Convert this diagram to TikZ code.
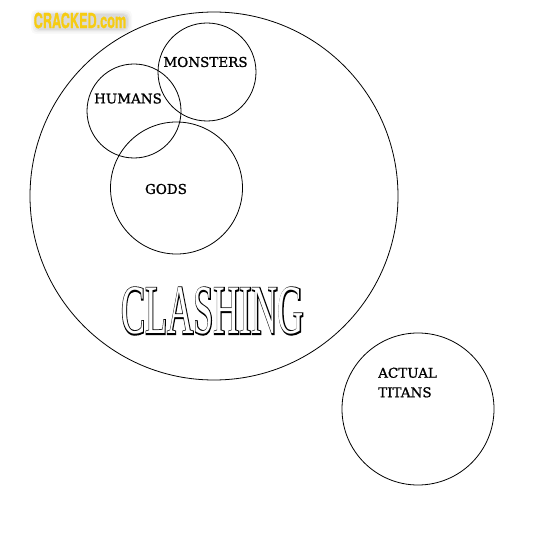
\documentclass[tikz,border=0pt]{standalone}
\usepackage{fontspec}
\setmainfont{DejaVu Serif}
\newfontfamily\lblfont[FakeBold=1.2]{DejaVu Serif}
\newfontfamily\clashbold[FakeBold=4]{Liberation Serif}
\newfontfamily\clashreg{Liberation Serif}
\newfontfamily\logofont[FakeBold=1]{TeX Gyre Heros}
\definecolor{logoyellow}{RGB}{246,204,18}
\begin{document}
\begin{tikzpicture}[x=1pt,y=-1pt,
  circ/.style={draw=black,line width=0.8pt,circle,inner sep=0pt,outer sep=0pt},
  lbl/.style={font=\lblfont\fontsize{13.5}{16}\selectfont,inner sep=0pt},
  clash/.style={inner sep=0pt,xscale=0.52,transform shape,anchor=center}]
\useasboundingbox (0,0) rectangle (540,540);
% logo glow
\foreach \w/\o in {4/0.025,2.5/0.035,1/0.045,0/0.05}{
  \fill[black,opacity=\o,rounded corners=5pt] (35-\w,14-\w) rectangle (128+\w,30+\w);
}
% circles
\node[circ,minimum size=368pt] (big) at (214,196) {};
\node[circ,minimum size=98pt] (monsterc) at (207,72) {};
\node[circ,minimum size=94pt] (humanc) at (134,111) {};
\node[circ,minimum size=132pt] (godc) at (176.5,188) {};
\node[circ,minimum size=152pt] (titanc) at (418,409) {};
% labels
\node[lbl] (monsters) at (205.5,62) {MONSTERS};
\node[lbl] (humans) at (128,98.5) {HUMANS};
\node[lbl] (gods) at (166,189) {GODS};
\node[lbl,align=left,anchor=north west,font=\lblfont\fontsize{13.5}{19.5}\selectfont] (titans) at (378,367.5) {ACTUAL\\TITANS};
% CLASHING outlined
\node[clash,text=black] (clashout) at (212.5,311) {\clashbold\fontsize{69.5}{70}\selectfont CLASHING};
\node[clash,text=white] (clashin) at (212.5,311) {\clashreg\fontsize{69.5}{70}\selectfont CLASHING};
% logo
\node[inner sep=0pt,xscale=0.61,transform shape,text=logoyellow] (logo) at (80,20.5) {\logofont\bfseries\fontsize{20.8}{22}\selectfont CRACKED.com};
\end{tikzpicture}
\end{document}
